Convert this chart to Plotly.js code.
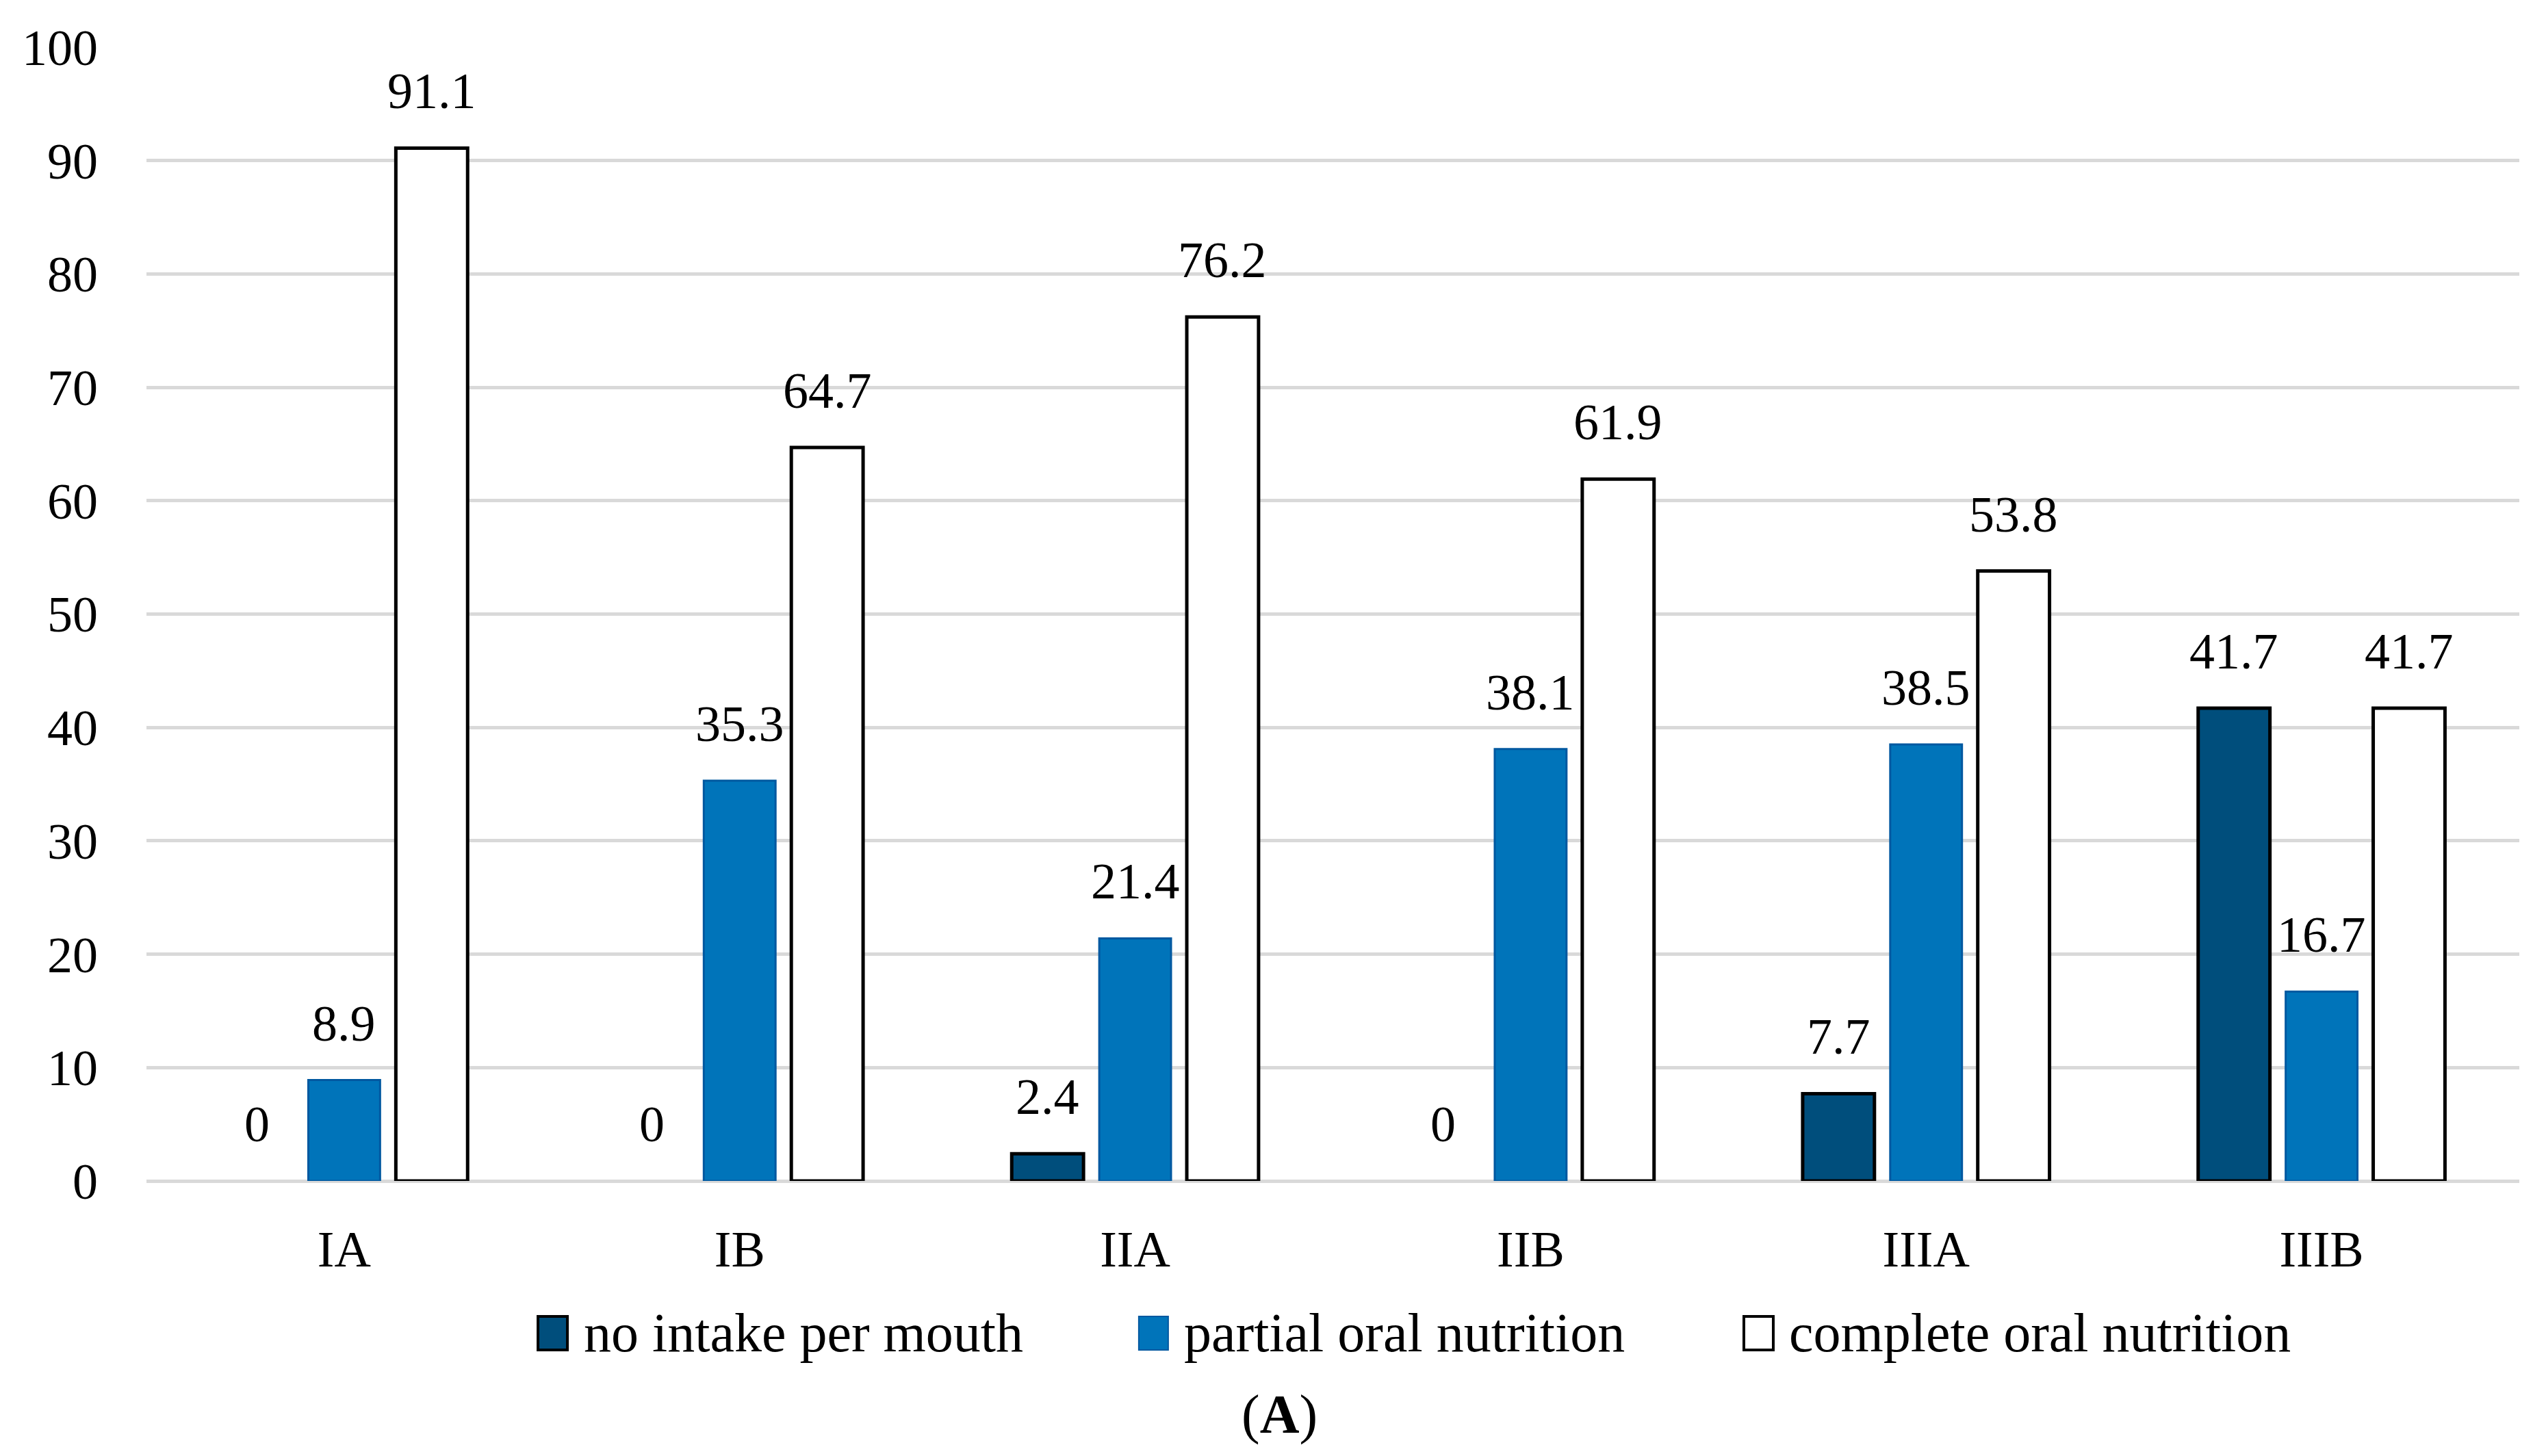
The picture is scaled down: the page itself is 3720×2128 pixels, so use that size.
<!DOCTYPE html>
<html>
<head>
<meta charset="utf-8">
<script src="https://cdn.plot.ly/plotly-3.0.1.min.js"></script>
<style>html,body{margin:0;padding:0;background:#fff;}#chart{width:3720px;height:2128px;}</style>
</head>
<body>
<div id="chart"></div>
<script>
const categories = ["IA", "IB", "IIA", "IIB", "IIIA", "IIIB"];
const seriesNames = ["no intake per mouth", "partial oral nutrition", "complete oral nutrition"];
const noIntake = [0, 0, 2.4, 0, 7.7, 41.7];
const partialOral = [8.9, 35.3, 21.4, 38.1, 38.5, 16.7];
const completeOral = [91.1, 64.7, 76.2, 61.9, 53.8, 41.7];
const yTicks = [0, 10, 20, 30, 40, 50, 60, 70, 80, 90, 100];

const FONT = "'Palatino Linotype', 'Book Antiqua', Palatino, 'Liberation Serif', serif";
const FS = 74;
const LEG_FS = 80;
const fills = ["#004E7C", "#0074BA", "#FFFFFF"];
const edges = ["#000000", "#0058A0", "#000000"];
const edgeW = [5, 3, 5];
const bargap = 0.336, bargroupgap = 0.18;

const seriesValues = [noIntake, partialOral, completeOral];
const traces = seriesValues.map((vals, s) => ({
  type: "bar",
  name: seriesNames[s],
  x: categories,
  y: vals,
  marker: {color: fills[s], line: {color: edges[s], width: vals.map(v => v === 0 ? 0 : edgeW[s])}},
  showlegend: false,
  hoverinfo: "none"
}));

const annotations = [];
const slot = (1 - bargap) / 3;
seriesValues.forEach((vals, s) => {
  vals.forEach((v, i) => {
    annotations.push({
      x: i + (s - 1) * slot, y: v, xref: "x", yref: "y",
      text: String(v), showarrow: false, yanchor: "bottom", xanchor: "center",
      yshift: 40, font: {family: FONT, size: FS, color: "#000"}
    });
  });
});

// Legend (manual, larger swatches)
const shapes = [];
const legX = [0.165, 0.4182, 0.6732];
const swW = 0.0124;
seriesNames.forEach((n, s) => {
  shapes.push({type: "rect", xref: "paper", yref: "paper",
    x0: legX[s], x1: legX[s] + swW, y0: -0.149, y1: -0.1195,
    fillcolor: fills[s], line: {color: edges[s], width: edgeW[s] - 1}});
  annotations.push({xref: "paper", yref: "paper", x: legX[s] + swW + 0.0062, y: -0.134,
    xanchor: "left", yanchor: "middle", showarrow: false, text: n,
    font: {family: FONT, size: LEG_FS, color: "#000"}});
});
annotations.push({xref: "paper", yref: "paper", x: 0.4776, y: -0.2058,
  xanchor: "center", yanchor: "middle", showarrow: false, text: "(<b>A</b>)",
  font: {family: FONT, size: LEG_FS, color: "#000"}});

const layout = {
  width: 3720, height: 2128,
  margin: {l: 214, r: 39, t: 69, b: 402},
  paper_bgcolor: "#fff", plot_bgcolor: "#fff",
  barmode: "group", bargap: bargap, bargroupgap: bargroupgap,
  font: {family: FONT, size: FS, color: "#000"},
  xaxis: {type: "category", showgrid: false, showline: false, zeroline: false,
    ticks: "", ticklabelstandoff: 50, tickfont: {family: FONT, size: FS, color: "#000"}},
  yaxis: {range: [0, 100], tickvals: yTicks, ticktext: yTicks.map(String),
    showgrid: true, gridcolor: "#D9D9D9", gridwidth: 5,
    zeroline: true, zerolinecolor: "#D9D9D9", zerolinewidth: 5,
    showline: false, ticks: "", ticklabelstandoff: 70,
    tickfont: {family: FONT, size: FS, color: "#000"}},
  shapes: shapes,
  annotations: annotations
};

Plotly.newPlot("chart", traces, layout, {staticPlot: true, displayModeBar: false});
</script>
</body>
</html>
